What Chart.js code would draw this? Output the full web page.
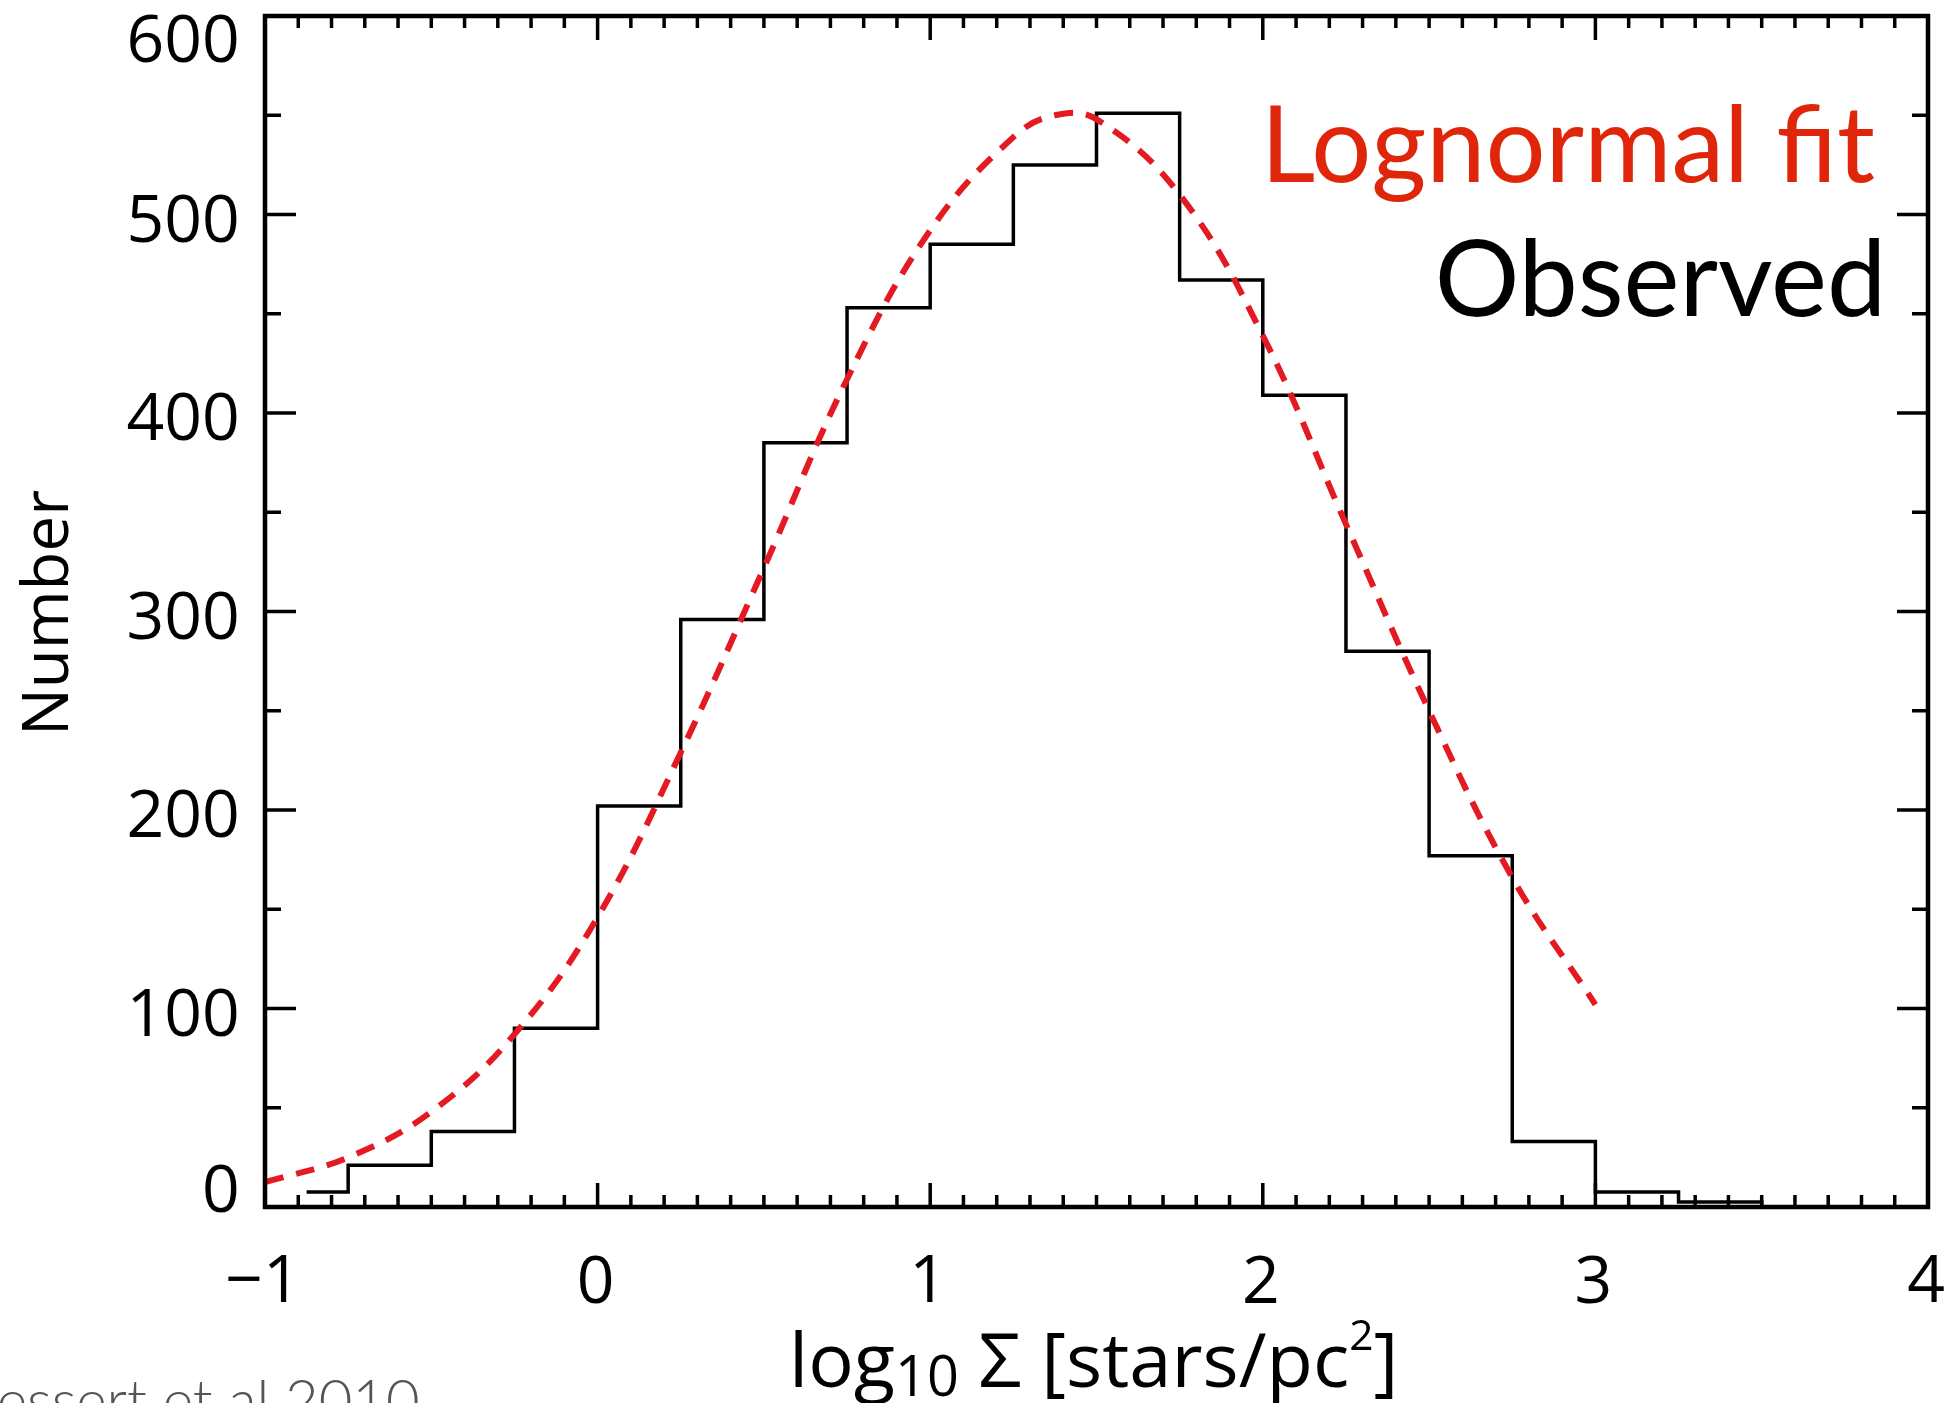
<!DOCTYPE html>
<html>
<head>
<meta charset="utf-8">
<script src="https://cdn.jsdelivr.net/npm/chart.js@4.4.1/dist/chart.umd.min.js"></script>
<style>
  html, body { margin: 0; padding: 0; background: #fff; }
  #chart { display: block; }
</style>
</head>
<body>
<canvas id="chart" width="1954" height="1403"></canvas>
<script>
// --- values ---
// histogram bin centres (bin width 0.25) and counts
const binCenters = [-0.875, -0.625, -0.375, -0.125, 0.125, 0.375, 0.625, 0.875, 1.125,
  1.375, 1.625, 1.875, 2.125, 2.375, 2.625, 2.875, 3.125, 3.375, 3.625];
const observedCounts = [7.5, 21, 38, 90, 202, 296, 385, 453, 485,
  525, 551, 467, 409, 280, 177, 33, 7.5, 2.5, 0];

// red dashed lognormal fit, sampled along the drawn curve
const fitX = [-1, -0.75, -0.5, -0.25, 0, 0.25, 0.5, 0.75, 1.0, 1.25, 1.375, 1.5,
  1.75, 2.0, 2.25, 2.5, 2.75, 3.0];
const fitY = [12.5, 25, 48, 87, 146, 229, 322, 417, 492, 539, 550, 548,
  510, 439, 344, 250, 166, 102];

// axes
const X_MIN = -1, X_MAX = 4, Y_MIN = 0, Y_MAX = 600;
const xTickValues = [-1, 0, 1, 2, 3, 4];
const xTickLabels = ["\u22121", "0", "1", "2", "3", "4"];
const yTickValues = [0, 100, 200, 300, 400, 500, 600];
const yTickLabels = ["0", "100", "200", "300", "400", "500", "600"];
const xMinorStep = 0.1;
const yMinorStep = 50;

const TICK_FONT = "'Open Sans', 'DejaVu Sans', sans-serif";
const NOTE_FONT = "Lato, 'Open Sans', sans-serif";

// --- text helpers ---
function ink(ctx, text) {
  const m = ctx.measureText(text);
  return {
    left: m.actualBoundingBoxLeft,
    right: m.actualBoundingBoxRight,
    asc: m.actualBoundingBoxAscent,
    desc: m.actualBoundingBoxDescent,
    width: m.actualBoundingBoxLeft + m.actualBoundingBoxRight,
    adv: m.width,
  };
}

// size a font so the text's ink is targetWidth wide
function fitSize(ctx, text, weight, family, targetWidth) {
  ctx.font = `${weight} 100px ${family}`;
  return (100 * targetWidth) / ink(ctx, text).width;
}

// --- frame, ticks and all text ---
const frame = {
  id: "frame",
  afterDatasetsDraw(chart) {
    const { ctx, chartArea: a, scales: { x, y } } = chart;
    ctx.save();
    ctx.strokeStyle = "#000";
    ctx.fillStyle = "#000";
    ctx.lineCap = "butt";

    // inward ticks, mirrored on all four sides
    ctx.lineWidth = 3.5;
    ctx.beginPath();
    for (let i = 0; ; i++) {
      const v = X_MIN + i * xMinorStep;
      if (v > X_MAX + 1e-9) break;
      const major = Math.abs(v - Math.round(v)) < 1e-6;
      const len = major ? 24 : 12;
      const px = x.getPixelForValue(v);
      ctx.moveTo(px, a.bottom); ctx.lineTo(px, a.bottom - len);
      ctx.moveTo(px, a.top); ctx.lineTo(px, a.top + len);
    }
    for (let v = Y_MIN; v <= Y_MAX; v += yMinorStep) {
      const major = v % 100 === 0;
      const len = major ? 31 : 16;
      const py = y.getPixelForValue(v);
      ctx.moveTo(a.left, py); ctx.lineTo(a.left + len, py);
      ctx.moveTo(a.right, py); ctx.lineTo(a.right - len, py);
    }
    ctx.stroke();

    // axis box
    ctx.lineWidth = 4.5;
    ctx.strokeRect(a.left, a.top, a.right - a.left, a.bottom - a.top);

    // y tick labels (ink right edge at 237, kept inside the frame height)
    ctx.font = `400 66px ${TICK_FONT}`;
    ctx.textAlign = "left";
    ctx.textBaseline = "alphabetic";
    yTickValues.forEach((v, i) => {
      const t = yTickLabels[i];
      const m = ink(ctx, t);
      let cy = y.getPixelForValue(v) + 3.5;
      cy = Math.min(Math.max(cy, a.top + 22), a.bottom - 18.5);
      ctx.fillText(t, 237 - m.right, cy + (m.asc - m.desc) / 2);
    });

    // x tick labels
    ctx.textAlign = "center";
    xTickValues.forEach((v, i) => {
      const t = xTickLabels[i];
      const m = ink(ctx, t);
      ctx.fillText(t, x.getPixelForValue(v) - 2, a.bottom + 48 + m.asc);
    });

    // x title: log10 Σ [stars/pc2]
    const parts = [
      { t: "log", s: 68, dy: 0 },
      { t: "10", s: 50, dy: 9 },
      { t: " \u03A3 [stars/pc", s: 68, dy: 0 },
      { t: "2", s: 38, dy: -37 },
      { t: "]", s: 68, dy: 0 },
    ];
    ctx.textAlign = "left";
    const measure = (k) => {
      let w = 0;
      parts.forEach((p, i) => {
        ctx.font = `400 ${p.s * k}px ${TICK_FONT}`;
        const m = ink(ctx, p.t);
        w += i === parts.length - 1 ? m.right : m.adv;
      });
      ctx.font = `400 ${parts[0].s * k}px ${TICK_FONT}`;
      return w + ink(ctx, parts[0].t).left;
    };
    const k = 598 / measure(1);
    ctx.font = `400 ${parts[0].s * k}px ${TICK_FONT}`;
    let cx = 795 + ink(ctx, parts[0].t).left;
    parts.forEach((p) => {
      ctx.font = `400 ${p.s * k}px ${TICK_FONT}`;
      ctx.fillText(p.t, cx, 1387 + p.dy);
      cx += ink(ctx, p.t).adv;
    });

    // y title
    ctx.save();
    const ns = fitSize(ctx, "Number", 400, TICK_FONT, 240);
    ctx.font = `400 ${ns}px ${TICK_FONT}`;
    ctx.translate(68, 613);
    ctx.rotate(-Math.PI / 2);
    ctx.textAlign = "center";
    ctx.fillText("Number", 0, 0);
    ctx.restore();

    // in-plot labels
    ctx.textAlign = "left";
    let s = fitSize(ctx, "Lognormal fit", 400, NOTE_FONT, 604);
    ctx.font = `400 ${s}px ${NOTE_FONT}`;
    ctx.fillStyle = "#e0260a";
    ctx.fillText("Lognormal fit", 1874 - ink(ctx, "Lognormal fit").right, 182);

    s = fitSize(ctx, "Observed", 400, NOTE_FONT, 440);
    ctx.font = `400 ${s}px ${NOTE_FONT}`;
    ctx.fillStyle = "#000";
    ctx.fillText("Observed", 1879 - ink(ctx, "Observed").right, 316);

    // citation, cut by the bottom edge
    ctx.font = `300 58px ${NOTE_FONT}`;
    ctx.fillStyle = "#555";
    ctx.fillText("Bressert et al 2010", 418 - ink(ctx, "Bressert et al 2010").right, 1421);

    ctx.restore();
  },
};

new Chart(document.getElementById("chart"), {
  type: "scatter",
  data: {
    datasets: [
      {
        label: "Lognormal fit",
        data: fitX.map((v, i) => ({ x: v, y: fitY[i] })),
        showLine: true,
        borderColor: "#e41a22",
        borderWidth: 6,
        borderDash: [19, 13],
        pointRadius: 0,
        tension: 0.4,
        order: 0,
      },
      {
        label: "Observed",
        data: binCenters.map((v, i) => ({ x: v, y: observedCounts[i] })),
        showLine: true,
        stepped: "middle",
        borderColor: "#000",
        borderWidth: 3.5,
        pointRadius: 0,
        order: 1,
      },
    ],
  },
  options: {
    responsive: false,
    animation: false,
    devicePixelRatio: 1,
    layout: { padding: { left: 265, top: 16, right: 26, bottom: 196 } },
    plugins: { legend: { display: false }, tooltip: { enabled: false } },
    scales: {
      x: { type: "linear", min: X_MIN, max: X_MAX, display: false },
      y: { type: "linear", min: Y_MIN, max: Y_MAX, display: false },
    },
  },
  plugins: [frame],
});
</script>
</body>
</html>
